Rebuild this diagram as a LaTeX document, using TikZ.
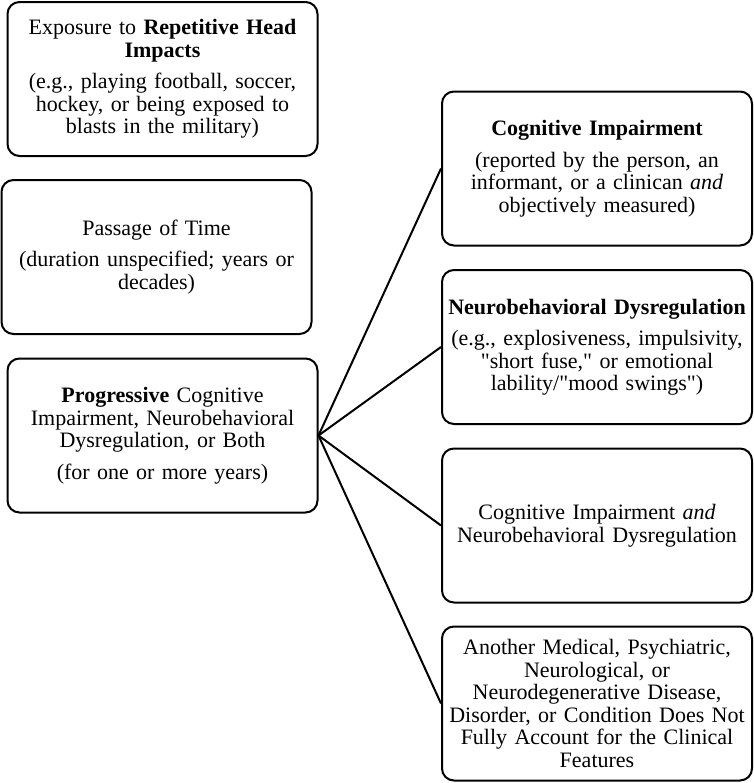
\documentclass[tikz,border=0pt]{standalone}
\usepackage{fontspec}
\setmainfont{Liberation Serif}[Ligatures=TeXOff]
\usetikzlibrary{arrows}

\tikzset{box/.style={draw, line width=1pt, rounded corners=6pt, align=center,
    text width=151pt, inner sep=2pt, minimum height=77pt,
    font=\fontsize{11}{11.25}\selectfont},
  link/.style={line width=1pt}}

\begin{document}
\begin{tikzpicture}[x=0.5pt,y=-0.5pt]
			\useasboundingbox (0,0) rectangle (754,783);

			\node[box] (rhi) at (162.5, 79) {Exposure to \textbf{Repetitive Head}\\ \textbf{Impacts}\\[4.5pt]
				(e.g., playing football, soccer,\\ hockey, or being exposed to\\ blasts in the military)};
			\node[box] (time) at (156.5, 257) {Passage of Time\\[4.5pt] (duration unspecified; years or\\ decades)};
			\node[box] (prog) at (162.5, 435.5) {\textbf{Progressive} Cognitive\\ Impairment, Neurobehavioral\\ Dysregulation, or Both\\[4.5pt]
				(for one or more years)};

			\node[box] (ci) at (597, 168.5) {\textbf{Cognitive Impairment}\\[4.5pt] (reported by the person, an\\
				informant, or a clinican \textit{and}\\ objectively measured)};
			\node[box] (nd) at (597, 347) {\textbf{Neurobehavioral Dysregulation}\\[4.5pt] (e.g., explosiveness, impulsivity,\\
				"short fuse," or emotional\\ lability/"mood swings")};
			\node[box] (both) at (597, 525.5) {Cognitive Impairment \textit{and}\\ Neurobehavioral Dysregulation};
			\node[box] (other) at (597, 703.5) {Another Medical, Psychiatric,\\ Neurological, or\\ Neurodegenerative Disease,\\
				Disorder, or Condition Does Not\\ Fully Account for the Clinical\\ Features};

			\draw[link] (prog.east) to (ci.west);
			\draw[link] (prog.east) to (nd.west);
			\draw[link] (prog.east) to (both.west);
			\draw[link] (prog.east) to (other.west);
		\end{tikzpicture}
\end{document}
